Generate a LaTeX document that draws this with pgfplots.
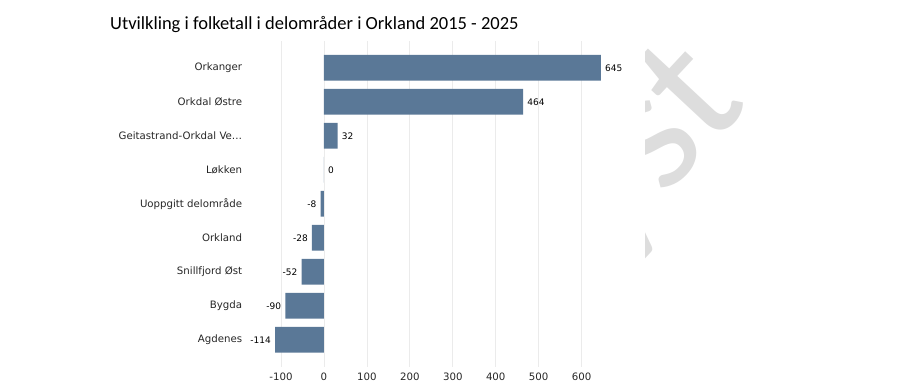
\documentclass[border=0pt]{standalone}
\usepackage{pgfplots}
\pgfplotsset{compat=1.18}
\usepackage{fontspec}
\setmainfont{DejaVu Sans}
\newfontfamily\titlefont{Carlito}
\definecolor{barblue}{HTML}{5A7897}
\definecolor{gridgray}{HTML}{EBEBEB}
\definecolor{wm}{HTML}{DDDDDD}
\begin{document}
\begin{tikzpicture}
\path[use as bounding box] (0pt,0pt) rectangle (907pt,387pt);
\begin{scope}
\clip (645pt,0pt) rectangle (907pt,387pt);
\node[rotate=47, text=wm, font=\titlefont\fontsize{178}{178}\selectfont, inner sep=0pt, anchor=base east] at (750pt,282pt) {yst};
\end{scope}
\node[anchor=base west, font=\titlefont\fontsize{18.5}{22}\selectfont, inner sep=0pt] at (110pt,357pt) {Utvilkling i folketall i delområder i Orkland 2015 - 2025};
\begin{axis}[
  at={(270.3pt,20pt)}, anchor=south west,
  scale only axis, width=332.8pt, height=326.4pt,
  xbar, bar width=0.76,
  xmin=-125, xmax=650, ymin=-0.8, ymax=8.8,
  axis line style={draw=none}, major tick length=0pt,
  xtick={-100,0,100,200,300,400,500,600},
  xticklabels={-100,0,100,200,300,400,500,600},
  xmajorgrids, grid style={gridgray, line width=0.8pt},
  ytick={0,...,8},
  yticklabels={Agdenes, Bygda, Snillfjord Øst, Orkland, Uoppgitt delområde, Løkken, Geitastrand-Orkdal Ve…, Orkdal Østre, Orkanger},
  tick label style={font=\fontsize{10.2}{12}\selectfont, text=black!85},
  xticklabel style={yshift=-2.6pt},
  yticklabel style={xshift=-24.6pt},
  clip=false,
  point meta=explicit symbolic,
  nodes near coords,
]
\addplot[fill=barblue, draw=none, bar shift=0pt,
  every node near coord/.append style={anchor=west, font=\fontsize{9}{9}\selectfont, inner sep=4pt, text=black}] coordinates {
(645,8) [645]
(464,7) [464]
(32,6) [32]
(0,5) [0]
};
\addplot[fill=barblue, draw=none, bar shift=0pt,
  every node near coord/.append style={anchor=east, font=\fontsize{9}{9}\selectfont, inner sep=4pt, text=black}] coordinates {
(-8,4) [-8]
(-28,3) [-28]
(-52,2) [-52]
(-90,1) [-90]
(-114,0) [-114]
};
\end{axis}
\end{tikzpicture}
\end{document}
